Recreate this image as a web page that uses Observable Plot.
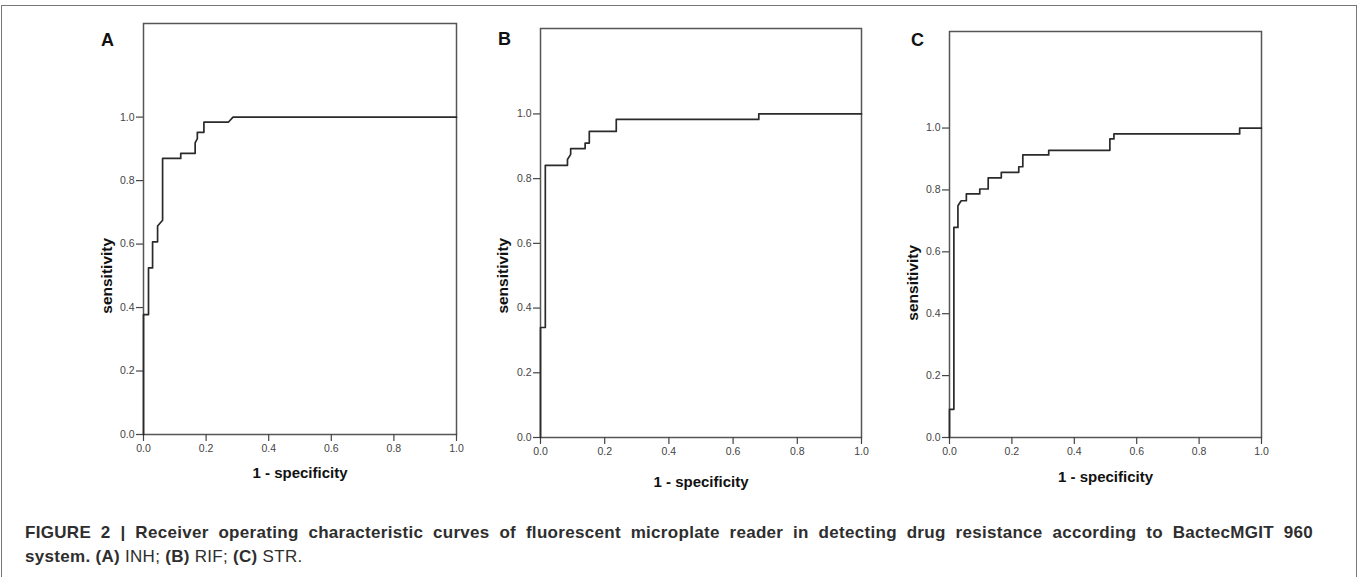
<!DOCTYPE html>
<html>
<head>
<meta charset="utf-8">
<script src="https://cdn.jsdelivr.net/npm/d3@7"></script>
<script src="https://cdn.jsdelivr.net/npm/@observablehq/plot@0.6"></script>
<style>
  html, body { margin: 0; padding: 0; background: #fff; }
  #fig { position: relative; width: 1359px; height: 577px; overflow: hidden; font-family: "Liberation Sans", Arial, sans-serif; }
  #border { position: absolute; left: 1px; top: 5px; width: 1356px; height: 600px; border: 1.5px solid #777; box-sizing: border-box; }
  .panel { position: absolute; }
  #caption { position: absolute; left: 25px; top: 521px; width: 1288px; font-size: 17px; letter-spacing: 0.3px; line-height: 24px; color: #2e2e2e; }
  #caption .l1 { text-align: justify; text-align-last: justify; white-space: normal; font-weight: bold; }
  #caption .l2 { white-space: nowrap; }
  #caption b { font-weight: bold; }
</style>
</head>
<body>
<div id="fig">
  <div id="border"></div>
  <div id="pA" class="panel"></div>
  <div id="pB" class="panel"></div>
  <div id="pC" class="panel"></div>
  <div id="caption"><div class="l1">FIGURE 2 | Receiver operating characteristic curves of fluorescent microplate reader in detecting drug resistance according to BactecMGIT 960</div><div class="l2"><b>system. (A)</b> INH; <b>(B)</b> RIF; <b>(C)</b> STR.</div></div>
</div>
<script>
// ---- Data ----
const panelLetters = ["A", "B", "C"];
const xTicks = [0, 0.2, 0.4, 0.6, 0.8, 1.0];
const yTicks = [0, 0.2, 0.4, 0.6, 0.8, 1.0];
const xLabel = "1 - specificity";
const yLabel = "sensitivity";

// Panel A (INH)
const fprA = [0, 0, 0.016, 0.016, 0.029, 0.029, 0.045, 0.045, 0.061, 0.061, 0.119, 0.119, 0.165, 0.165, 0.172, 0.172, 0.193, 0.193, 0.271, 0.286, 1.0];
const tprA = [0, 0.378, 0.378, 0.525, 0.525, 0.607, 0.607, 0.657, 0.675, 0.870, 0.870, 0.886, 0.886, 0.919, 0.932, 0.952, 0.952, 0.984, 0.984, 1.0, 1.0];

// Panel B (RIF)
const fprB = [0, 0, 0.015, 0.015, 0.084, 0.084, 0.094, 0.094, 0.139, 0.139, 0.152, 0.152, 0.236, 0.236, 0.680, 0.680, 1.0];
const tprB = [0, 0.340, 0.340, 0.841, 0.841, 0.859, 0.875, 0.893, 0.893, 0.910, 0.910, 0.946, 0.946, 0.983, 0.983, 1.0, 1.0];

// Panel C (STR)
const fprC = [0, 0, 0.014, 0.014, 0.027, 0.027, 0.0375, 0.054, 0.054, 0.097, 0.097, 0.124, 0.124, 0.166, 0.166, 0.222, 0.222, 0.235, 0.235, 0.318, 0.318, 0.514, 0.514, 0.527, 0.527, 0.930, 0.930, 1.0];
const tprC = [0, 0.091, 0.091, 0.679, 0.679, 0.749, 0.765, 0.765, 0.787, 0.787, 0.803, 0.803, 0.839, 0.839, 0.857, 0.857, 0.875, 0.875, 0.913, 0.913, 0.928, 0.928, 0.965, 0.965, 0.981, 0.981, 1.0, 1.0];

// ---- Layout per panel (SVG placement only) ----
const panels = [
  {id: "pA", letter: panelLetters[0], fpr: fprA, tpr: tprA, left: 60, top: 0, width: 420, height: 500,
   mL: 83, mR: 24, mT: 23, mB: 66, yMax: 1.295, letterDx: -36, letterDy: 10, xLabDy: 43, yLabDx: -36},
  {id: "pB", letter: panelLetters[1], fpr: fprB, tpr: tprB, left: 480, top: 0, width: 420, height: 500,
   mL: 60, mR: 39, mT: 28, mB: 63, yMax: 1.264, letterDx: -36, letterDy: 4, xLabDy: 49, yLabDx: -37},
  {id: "pC", letter: panelLetters[2], fpr: fprC, tpr: tprC, left: 900, top: 0, width: 420, height: 500,
   mL: 49, mR: 59, mT: 31, mB: 63, yMax: 1.312, letterDx: -32, letterDy: 2, xLabDy: 44, yLabDx: -36}
];

const font = "Liberation Sans, Arial, sans-serif";

for (const p of panels) {
  const pts = p.fpr.map((x, i) => ({x, y: p.tpr[i]}));
  const chart = Plot.plot({
    width: p.width,
    height: p.height,
    marginLeft: p.mL,
    marginRight: p.mR,
    marginTop: p.mT,
    marginBottom: p.mB,
    style: {fontFamily: font, fontSize: "10.5px", color: "#444", background: "transparent", overflow: "visible"},
    x: {domain: [0, 1]},
    y: {domain: [0, p.yMax]},
    marks: [
      Plot.frame({stroke: "#555", strokeWidth: 1.5}),
      Plot.axisY({ticks: yTicks, tickFormat: d3.format(".1f"), tickSize: 7, tickPadding: 2, label: null, stroke: "#444", strokeWidth: 1.2, fill: "#444"}),
      Plot.axisX({ticks: xTicks, tickFormat: d3.format(".1f"), tickSize: 7, tickPadding: 3, label: null, stroke: "#444", strokeWidth: 1.2, fill: "#444"}),
      Plot.line(pts, {x: "x", y: "y", stroke: "#2a2a2a", strokeWidth: 1.7, curve: "linear"}),
      Plot.text([yLabel], {frameAnchor: "left", y: [0.5], text: d => d, rotate: -90, dx: p.yLabDx, textAnchor: "middle", fontWeight: "bold", fontSize: 15.5, fill: "#111"}),
      Plot.text([xLabel], {frameAnchor: "bottom", text: d => d, dy: p.xLabDy, textAnchor: "middle", fontWeight: "bold", fontSize: 15, fill: "#111"}),
      Plot.text([p.letter], {frameAnchor: "top-left", text: d => d, dx: p.letterDx, dy: p.letterDy, textAnchor: "middle", fontWeight: "bold", fontSize: 18, fill: "#111"})
    ]
  });
  const host = document.getElementById(p.id);
  host.style.left = p.left + "px";
  host.style.top = p.top + "px";
  host.appendChild(chart);
}
</script>
</body>
</html>
